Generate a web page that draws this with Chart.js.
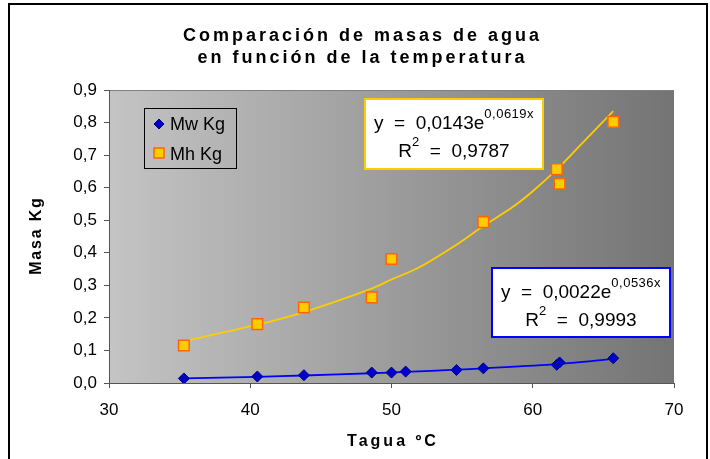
<!DOCTYPE html>
<html lang="es">
<head>
<meta charset="UTF-8">
<title>Comparación de masas de agua</title>
<script src="https://cdn.jsdelivr.net/npm/chart.js"></script>
<style>
  html, body { margin: 0; padding: 0; background: #fff; }
  .wrap { width: 710px; height: 459px; }
</style>
</head>
<body>
<div class="wrap"><canvas id="myChart" width="710" height="459"></canvas></div>
<script>
// temperatura del agua (ºC) y masas medidas
const temps = [35.3, 40.5, 43.8, 48.6, 50.0, 51.0, 54.6, 56.5, 61.7, 61.9, 65.7];
const mwKg = [0.014, 0.020, 0.024, 0.032, 0.032, 0.035, 0.040, 0.045, 0.056, 0.063, 0.076];
const mhTemps = [35.3, 40.5, 43.8, 48.6, 50.0, 56.5, 61.7, 61.9, 65.7];
const mhKg = [0.115, 0.181, 0.232, 0.263, 0.381, 0.494, 0.657, 0.612, 0.802];

// lineas de tendencia
const mwTrendT = [35.3, 40.5, 43.8, 48.6, 51.0, 54.6, 56.5, 61.7, 65.7];
const mwTrend = [0.014, 0.019, 0.023, 0.030, 0.034, 0.041, 0.045, 0.058, 0.074];
const mhTrendT = [35.3, 40.5, 43.8, 48.6, 50.0, 51.9, 54.6, 56.5, 58.5, 60.0, 61.7, 63.2, 65.7];
const mhTrend = [0.128, 0.179, 0.218, 0.290, 0.318, 0.354, 0.425, 0.482, 0.538, 0.589, 0.656, 0.723, 0.835];

const xTicks = [30, 40, 50, 60, 70];
const yTicks = [0, 0.1, 0.2, 0.3, 0.4, 0.5, 0.6, 0.7, 0.8, 0.9];
const seriesNames = ["Mw Kg", "Mh Kg"];
const mwFit = ["0,0022", "0,0536", "0,9993"];
const mhFit = ["0,0143", "0,0619", "0,9787"];

const FONT = "'Liberation Sans', Arial, sans-serif";

function toPts(xs, ys) {
  return xs.map((x, i) => ({ x: x, y: ys[i] }));
}

function spacedText(ctx, text, x, y, spacing) {
  ctx.save();
  ctx.letterSpacing = spacing + "px";
  const w = ctx.measureText(text).width - spacing;
  ctx.textAlign = "left";
  ctx.fillText(text, x - w / 2, y);
  ctx.restore();
}

function fitBox(ctx, x, y, w, h, color, fit) {
  ctx.save();
  ctx.fillStyle = "#fff";
  ctx.fillRect(x, y, w, h);
  ctx.strokeStyle = color;
  ctx.lineWidth = 2;
  ctx.strokeRect(x, y, w, h);
  ctx.fillStyle = "#000";
  ctx.textBaseline = "alphabetic";
  ctx.textAlign = "left";
  const big = "19px " + FONT, small = "13px " + FONT;
  const cx = x + w / 2;
  // linea 1: y = a e^(bx)
  const t1 = "y  =  " + fit[0] + "e";
  const s1 = fit[1] + "x";
  ctx.font = big;
  const w1 = ctx.measureText(t1).width;
  ctx.font = small;
  ctx.letterSpacing = "0.5px";
  const ws1 = ctx.measureText(s1).width;
  let sx = cx - (w1 + ws1) / 2;
  ctx.letterSpacing = "0px";
  ctx.font = big;
  ctx.fillText(t1, sx, y + 30);
  ctx.font = small;
  ctx.letterSpacing = "0.5px";
  ctx.fillText(s1, sx + w1, y + 19);
  ctx.letterSpacing = "0px";
  // linea 2: R^2 = ...
  const t2a = "R", t2b = "  =  " + fit[2];
  ctx.font = big;
  const wa = ctx.measureText(t2a).width, wb = ctx.measureText(t2b).width;
  ctx.font = small;
  const w2 = ctx.measureText("2").width;
  sx = cx - (wa + w2 + wb) / 2;
  ctx.font = big;
  ctx.fillText(t2a, sx, y + 58);
  ctx.fillText(t2b, sx + wa + w2, y + 58);
  ctx.font = small;
  ctx.fillText("2", sx + wa, y + 47);
  ctx.restore();
}

const decor = {
  id: "decor",
  beforeDraw(chart) {
    const { ctx, chartArea: a } = chart;
    ctx.save();
    const g = ctx.createLinearGradient(a.left, 0, a.right, 0);
    g.addColorStop(0, "#c4c4c4");
    g.addColorStop(1, "#747474");
    ctx.fillStyle = g;
    ctx.fillRect(a.left, a.top, a.right - a.left, a.bottom - a.top);
    ctx.strokeStyle = "#808080";
    ctx.lineWidth = 1;
    ctx.beginPath();
    ctx.moveTo(a.left, a.top + 0.5);
    ctx.lineTo(a.right, a.top + 0.5);
    ctx.stroke();
    ctx.restore();
  },
  afterDraw(chart) {
    const { ctx, chartArea: a } = chart;
    ctx.save();
    // marco exterior
    ctx.strokeStyle = "#000";
    ctx.lineWidth = 2;
    ctx.strokeRect(9, 4, 698, 480);

    // titulo
    ctx.fillStyle = "#000";
    ctx.textBaseline = "middle";
    ctx.font = "bold 18px " + FONT;
    spacedText(ctx, "Comparación de masas de agua", 361, 36, 3);
    spacedText(ctx, "en función de la temperatura", 361, 58, 3);

    // titulos de ejes
    ctx.font = "bold 16px " + FONT;
    spacedText(ctx, "Tagua ºC", (a.left + a.right) / 2, 442, 3);
    ctx.save();
    ctx.translate(37, (a.top + a.bottom) / 2);
    ctx.rotate(-Math.PI / 2);
    spacedText(ctx, "Masa Kg", 0, 0, 1.8);
    ctx.restore();

    // leyenda
    ctx.strokeStyle = "#000";
    ctx.lineWidth = 1;
    ctx.strokeRect(144.5, 108.5, 92, 60);
    const ds = chart.data.datasets;
    ctx.fillStyle = ds[0].backgroundColor;
    ctx.strokeStyle = ds[0].borderColor;
    ctx.beginPath();
    ctx.moveTo(159, 119); ctx.lineTo(164, 124); ctx.lineTo(159, 129); ctx.lineTo(154, 124);
    ctx.closePath();
    ctx.fill(); ctx.stroke();
    ctx.fillStyle = ds[1].backgroundColor;
    ctx.strokeStyle = ds[1].borderColor;
    ctx.lineWidth = 1.5;
    ctx.fillRect(154, 148, 10, 10);
    ctx.strokeRect(154, 148, 10, 10);
    ctx.fillStyle = "#000";
    ctx.font = "18px " + FONT;
    ctx.textBaseline = "alphabetic";
    ctx.textAlign = "left";
    ctx.fillText(seriesNames[0], 170, 130);
    ctx.fillText(seriesNames[1], 170, 160);

    // ecuaciones de ajuste
    fitBox(ctx, 365, 99, 178, 70, "#ffcc00", mhFit);
    fitBox(ctx, 492, 268, 178, 69, "#0000ff", mwFit);
    ctx.restore();
  }
};

const ctx = document.getElementById("myChart");

new Chart(ctx, {
  type: "scatter",
  data: {
    datasets: [
      {
        label: seriesNames[0],
        data: toPts(temps, mwKg),
        pointStyle: "rectRot",
        pointRadius: 5.5,
        pointHoverRadius: 5.5,
        backgroundColor: "#0000cc",
        borderColor: "#000080",
        borderWidth: 1,
        order: 0
      },
      {
        label: seriesNames[1],
        data: toPts(mhTemps, mhKg),
        pointStyle: "rect",
        pointRadius: 7.5,
        pointHoverRadius: 7.5,
        backgroundColor: "#ffcc00",
        borderColor: "#ff6600",
        borderWidth: 1.5,
        order: 0
      },
      {
        label: "trend Mw",
        data: toPts(mwTrendT, mwTrend),
        showLine: true,
        pointRadius: 0,
        borderColor: "#0000ff",
        borderWidth: 1.8,
        tension: 0.3,
        order: 1
      },
      {
        label: "trend Mh",
        data: toPts(mhTrendT, mhTrend),
        showLine: true,
        pointRadius: 0,
        borderColor: "#ffcc00",
        borderWidth: 1.8,
        tension: 0.3,
        order: 1
      }
    ]
  },
  options: {
    responsive: false,
    animation: false,
    devicePixelRatio: 1,
    layout: { padding: { left: 0, right: 36, top: 90, bottom: 0 } },
    plugins: {
      legend: { display: false },
      tooltip: { enabled: false },
      title: { display: false }
    },
    scales: {
      x: {
        type: "linear",
        min: 30,
        max: 70,
        afterBuildTicks: (s) => { s.ticks = xTicks.map((v) => ({ value: v })); },
        afterFit: (s) => { s.height = 76; },
        grid: { drawOnChartArea: false, drawTicks: true, tickLength: 5, color: "#555" },
        border: { color: "#555", width: 1 },
        ticks: {
          padding: 12,
          color: "#000",
          font: { family: FONT, size: 17 },
          callback: (v) => String(v)
        }
      },
      y: {
        type: "linear",
        min: 0,
        max: 0.9,
        afterBuildTicks: (s) => { s.ticks = yTicks.map((v) => ({ value: v })); },
        afterFit: (s) => { s.width = 109; },
        grid: { drawOnChartArea: false, drawTicks: true, tickLength: 5, color: "#555" },
        border: { color: "#555", width: 1 },
        ticks: {
          padding: 7,
          color: "#000",
          font: { family: FONT, size: 17 },
          callback: (v) => v.toFixed(1).replace(".", ",")
        }
      }
    }
  },
  plugins: [decor]
});
</script>
</body>
</html>
